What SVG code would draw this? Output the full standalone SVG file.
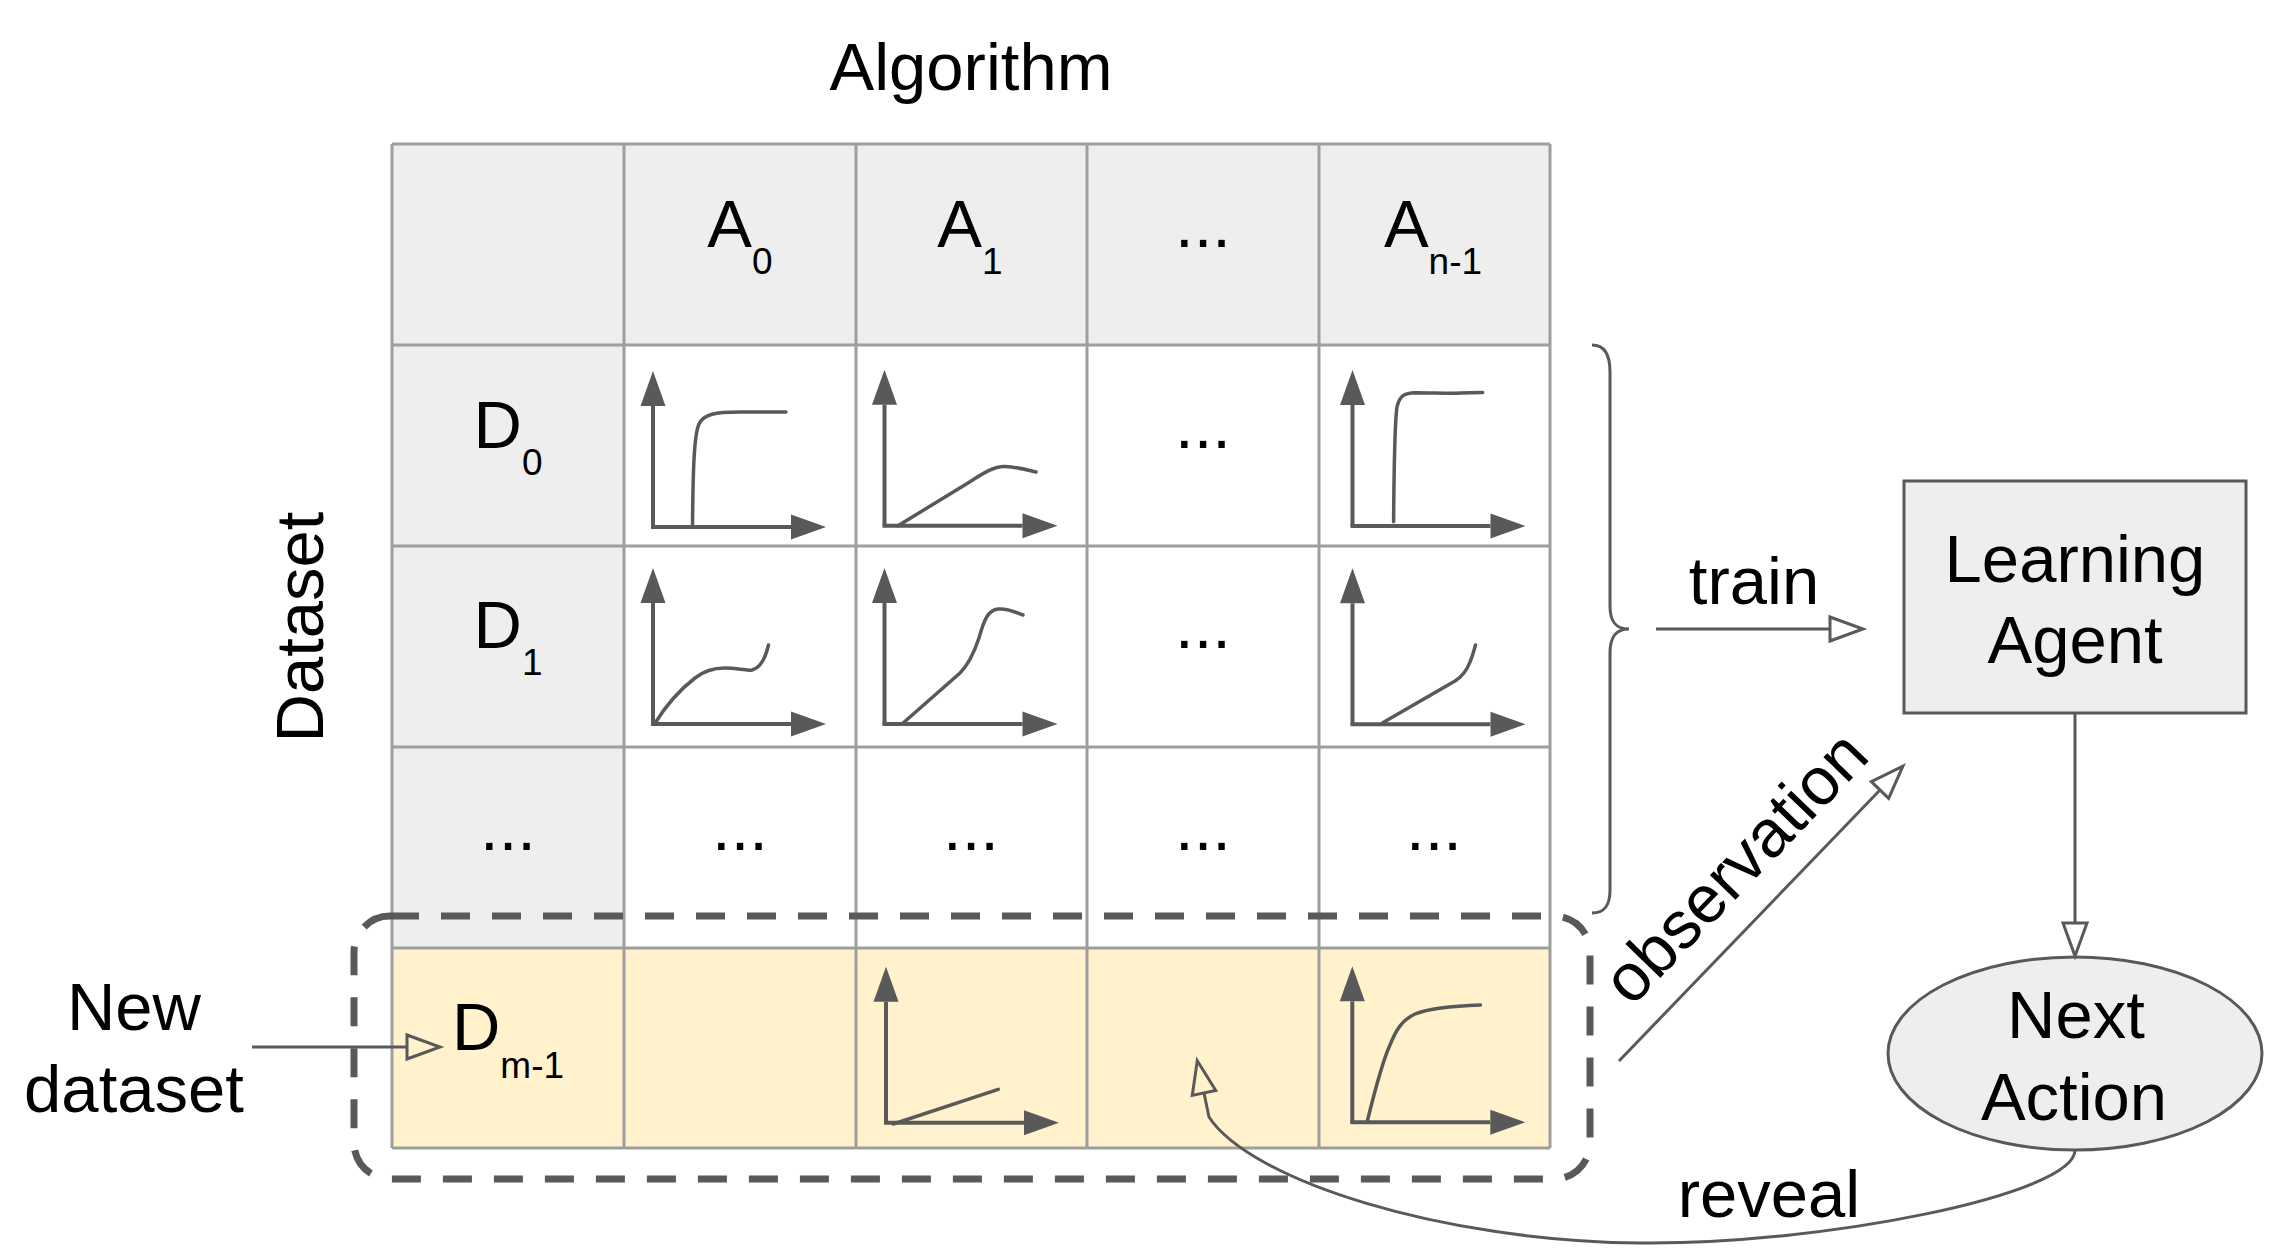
<svg xmlns="http://www.w3.org/2000/svg" xmlns:xlink="http://www.w3.org/1999/xlink" width="2278" height="1258" viewBox="0 0 2278 1258">
<style>
text { font-family: "Liberation Sans", Arial, sans-serif; font-size: 67px; fill: #000; }
.sub { font-size: 37px; }
.mid { text-anchor: middle; }
.grid { stroke: #9e9e9e; stroke-width: 3; fill: none; }
.conn { stroke: #595959; stroke-width: 3; fill: none; }
.axis { stroke: #595959; stroke-width: 4; fill: none; }
.curve { stroke: #595959; stroke-width: 3.5; fill: none; stroke-linecap: round; }
.node { fill: #eeeeee; stroke: #595959; stroke-width: 3; }
</style>
<defs>
<marker id="open" markerUnits="userSpaceOnUse" markerWidth="40" markerHeight="30" refX="0" refY="0" orient="auto" overflow="visible">
<path d="M0,-12 L33,0 L0,12 Z" fill="none" stroke="#595959" stroke-width="3" stroke-linejoin="miter"/>
</marker>
<marker id="solid" markerUnits="userSpaceOnUse" markerWidth="40" markerHeight="30" refX="0" refY="0" orient="auto" overflow="visible">
<path d="M0,-12.5 L35,0 L0,12.5 Z" fill="#595959"/>
</marker>
<g id="axes">
<path class="axis" d="M0,0 V-121" marker-end="url(#solid)"/>
<path class="axis" d="M-2,0 H138" marker-end="url(#solid)"/>
</g>
</defs>

<g id="title-algorithm"><text class="mid" x="971" y="90">Algorithm</text></g>
<g id="title-dataset"><text class="mid" transform="translate(323,627) rotate(-90)">Dataset</text></g>

<g id="table">
<rect x="392" y="144" width="1158" height="1004" fill="#ffffff"/>
<rect x="392" y="144" width="1158" height="201" fill="#eeeeee"/>
<rect x="392" y="345" width="232" height="603" fill="#eeeeee"/>
<rect x="392" y="948" width="1158" height="200" fill="#fff2cc"/>
<path class="grid" d="M392,144 V1148 M624,144 V1148 M856,144 V1148 M1087,144 V1148 M1319,144 V1148 M1550,144 V1148 M392,144 H1550 M392,345 H1550 M392,546 H1550 M392,747 H1550 M392,948 H1550 M392,1148 H1550"/>

<text class="mid" x="740" y="247">A<tspan class="sub" dy="27">0</tspan></text>
<text class="mid" x="970" y="247">A<tspan class="sub" dy="27">1</tspan></text>
<text class="mid" x="1203" y="247">...</text>
<text class="mid" x="1433" y="247">A<tspan class="sub" dy="27">n-1</tspan></text>

<text class="mid" x="508" y="448">D<tspan class="sub" dy="27">0</tspan></text>
<text class="mid" x="508" y="648">D<tspan class="sub" dy="27">1</tspan></text>
<text class="mid" x="508" y="850">...</text>
<text class="mid" x="508" y="1050">D<tspan class="sub" dy="28">m-1</tspan></text>

<text class="mid" x="1203" y="448">...</text>
<text class="mid" x="1203" y="648">...</text>
<text class="mid" x="740" y="850">...</text>
<text class="mid" x="971" y="850">...</text>
<text class="mid" x="1203" y="850">...</text>
<text class="mid" x="1434" y="850">...</text>

<g id="charts">
<use xlink:href="#axes" href="#axes" x="653" y="527"/>
<path class="curve" d="M692.5,527 C693,470 694,435 699,424 C704,414 715,412 740,412 L786,412"/>
<use xlink:href="#axes" href="#axes" x="884.5" y="525.7"/>
<path class="curve" d="M898,525.7 L968,483 C985,472 995,466 1005,466.5 C1018,467 1028,470 1036,472"/>
<use xlink:href="#axes" href="#axes" x="1352.5" y="526"/>
<path class="curve" d="M1393.6,521.7 C1394,470 1395,420 1397,406.7 C1400,395 1405,393 1415,392.7 C1440,393 1455,393.5 1460,393 L1482.7,392.5"/>
<use xlink:href="#axes" href="#axes" x="653" y="724"/>
<path class="curve" d="M654.5,724 C668,702 682,688 695,678 C705,670 715,668 725,668 C738,668 745,671 752,670 C760,668 765,660 768.5,645"/>
<use xlink:href="#axes" href="#axes" x="884.5" y="724"/>
<path class="curve" d="M902,724 L960,673 C970,663 975,650 979,638 C984,620 988,610 998,609 C1008,608 1015,612 1023,615"/>
<use xlink:href="#axes" href="#axes" x="1352.5" y="724.3"/>
<path class="curve" d="M1382.7,722.7 L1455,681 C1463,676 1467,670 1470,662 C1473,655 1474,650 1475.5,645"/>
<use xlink:href="#axes" href="#axes" x="886" y="1122.7"/>
<path class="curve" d="M893.3,1124 L998.3,1089.3"/>
<use xlink:href="#axes" href="#axes" x="1352.3" y="1122.3"/>
<path class="curve" d="M1367.6,1120 C1375,1090 1383,1060 1390,1045 C1396,1030 1402,1020 1415,1014 C1430,1008 1450,1006 1480.5,1005"/>
</g>
</g>

<g id="new-dataset-highlight">
<rect x="354" y="916" width="1236" height="263" rx="36" ry="36" fill="none" stroke="#595959" stroke-width="7" stroke-dasharray="29 22"/>
</g>

<g id="new-dataset-label">
<text class="mid" x="134" y="1030">New</text>
<text class="mid" x="134" y="1112">dataset</text>
</g>

<g id="learning-agent">
<rect class="node" x="1904" y="481" width="342" height="232"/>
<text class="mid" x="2075" y="582">Learning</text>
<text class="mid" x="2075" y="663">Agent</text>
</g>

<g id="next-action">
<ellipse class="node" cx="2075" cy="1053.5" rx="187" ry="96.5"/>
<text class="mid" x="2076" y="1038">Next</text>
<text class="mid" x="2074" y="1120">Action</text>
</g>

<g id="connectors">
<path class="conn" d="M1592,345 C1605,345 1610,355 1610,372 L1610,606 C1610,621 1615,629 1629,629 C1615,629 1610,638 1610,653 L1610,890 C1610,905 1605,913 1592,913"/>
<path class="conn" d="M1656,629 H1830" marker-end="url(#open)"/>
<text class="mid" x="1754" y="604">train</text>
<path class="conn" d="M1619,1061 L1880,790" marker-end="url(#open)"/>
<text class="mid" transform="translate(1751.5,883) rotate(-46.1)">observation</text>
<path class="conn" d="M2075,713 V923" marker-end="url(#open)"/>
<path class="conn" d="M252,1047 H407" marker-end="url(#open)"/>
<path class="conn" d="M2075,1150 C2075,1195 1820,1245 1640,1243 C1440,1241 1250,1180 1209,1117 L1204,1093" marker-end="url(#open)"/>
<text class="mid" x="1769" y="1217">reveal</text>
</g>
</svg>
